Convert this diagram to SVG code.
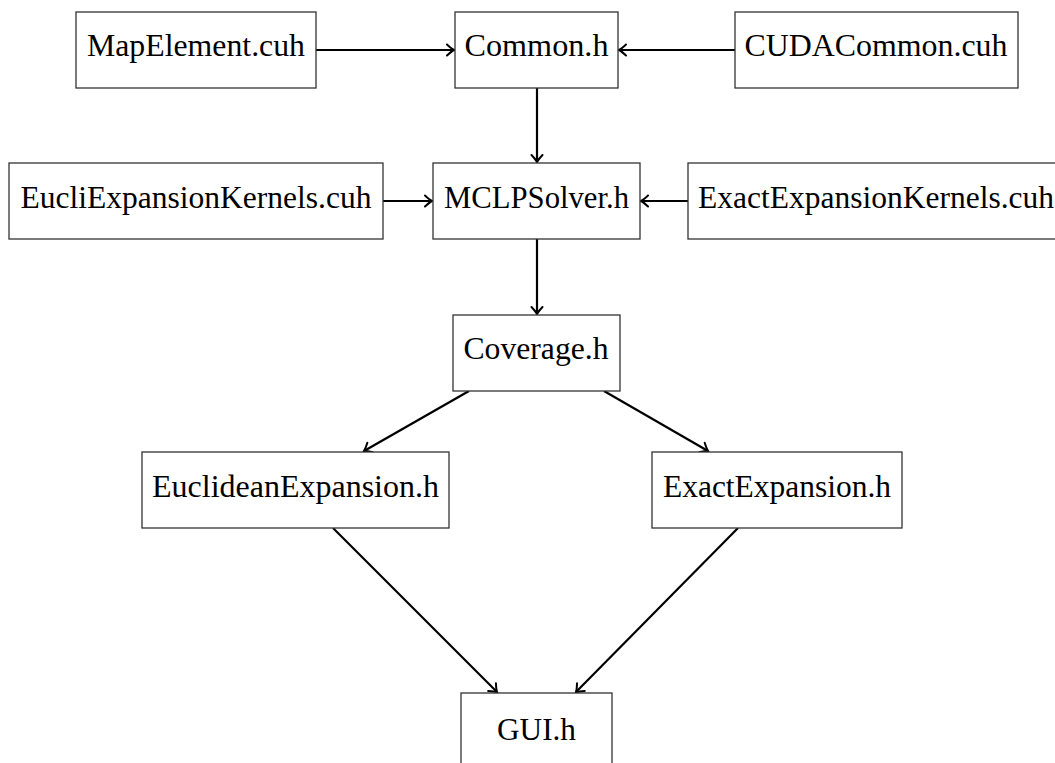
<svg xmlns="http://www.w3.org/2000/svg" width="1055" height="763" viewBox="0 0 1055 763">
  <style>
    .box { fill: #ffffff; stroke: #333333; stroke-width: 1.3; }
    .lbl { font-family: "Liberation Serif", "DejaVu Serif", serif; font-size: 32px; fill: #000000; text-anchor: middle; }
    .edge { fill: none; stroke: #000000; stroke-width: 2.2; marker-end: url(#tip); }
  </style>
  <defs>
    <marker id="tip" viewBox="-10 -7 12 14" refX="0" refY="0" markerWidth="12" markerHeight="14" markerUnits="userSpaceOnUse" orient="auto">
      <path d="M-7,-5.5 Q-2.5,-1.3 0,0 Q-2.5,1.3 -7,5.5" fill="none" stroke="#000000" stroke-width="2" stroke-linecap="round"/>
    </marker>
  </defs>
  <rect width="1055" height="763" fill="#ffffff"/>

  <g id="connectors">
    <line class="edge" x1="316" y1="50" x2="454" y2="50"/>
    <line class="edge" x1="735" y1="50" x2="619" y2="50"/>
    <line class="edge" x1="537" y1="88" x2="537" y2="162"/>
    <line class="edge" x1="383" y1="201" x2="432" y2="201"/>
    <line class="edge" x1="688" y1="201" x2="641" y2="201"/>
    <line class="edge" x1="537" y1="239" x2="537" y2="314"/>
    <line class="edge" x1="469" y1="391" x2="364" y2="451"/>
    <line class="edge" x1="604" y1="391" x2="708" y2="451"/>
    <line class="edge" x1="333" y1="528" x2="497" y2="692"/>
    <line class="edge" x1="738" y1="528" x2="576" y2="692"/>
  </g>

  <g id="mapelement">
    <rect class="box" x="76" y="12" width="240" height="76"/>
    <text class="lbl" x="196" y="56" textLength="218" lengthAdjust="spacingAndGlyphs">MapElement.cuh</text>
  </g>
  <g id="common">
    <rect class="box" x="455" y="12" width="163" height="76"/>
    <text class="lbl" x="536.5" y="56" textLength="144" lengthAdjust="spacingAndGlyphs">Common.h</text>
  </g>
  <g id="cudacommon">
    <rect class="box" x="735" y="12" width="283" height="76"/>
    <text class="lbl" x="876" y="56" textLength="263" lengthAdjust="spacingAndGlyphs">CUDACommon.cuh</text>
  </g>
  <g id="eucliexpansionkernels">
    <rect class="box" x="9" y="163" width="374" height="76"/>
    <text class="lbl" x="196" y="208" textLength="351" lengthAdjust="spacingAndGlyphs">EucliExpansionKernels.cuh</text>
  </g>
  <g id="mclpsolver">
    <rect class="box" x="433" y="163" width="207" height="76"/>
    <text class="lbl" x="536.5" y="208" textLength="185" lengthAdjust="spacingAndGlyphs">MCLPSolver.h</text>
  </g>
  <g id="exactexpansionkernels">
    <rect class="box" x="688" y="163" width="376" height="76"/>
    <text class="lbl" x="876" y="208" textLength="356" lengthAdjust="spacingAndGlyphs">ExactExpansionKernels.cuh</text>
  </g>
  <g id="coverage">
    <rect class="box" x="453" y="315" width="167" height="76"/>
    <text class="lbl" x="536" y="359" textLength="145" lengthAdjust="spacingAndGlyphs">Coverage.h</text>
  </g>
  <g id="euclideanexpansion">
    <rect class="box" x="142" y="452" width="307" height="76"/>
    <text class="lbl" x="295.5" y="497" textLength="287" lengthAdjust="spacingAndGlyphs">EuclideanExpansion.h</text>
  </g>
  <g id="exactexpansion">
    <rect class="box" x="652" y="452" width="250" height="76"/>
    <text class="lbl" x="777" y="497" textLength="228" lengthAdjust="spacingAndGlyphs">ExactExpansion.h</text>
  </g>
  <g id="gui">
    <rect class="box" x="461" y="693" width="151" height="80"/>
    <text class="lbl" x="536.5" y="740" textLength="79" lengthAdjust="spacingAndGlyphs">GUI.h</text>
  </g>
</svg>
